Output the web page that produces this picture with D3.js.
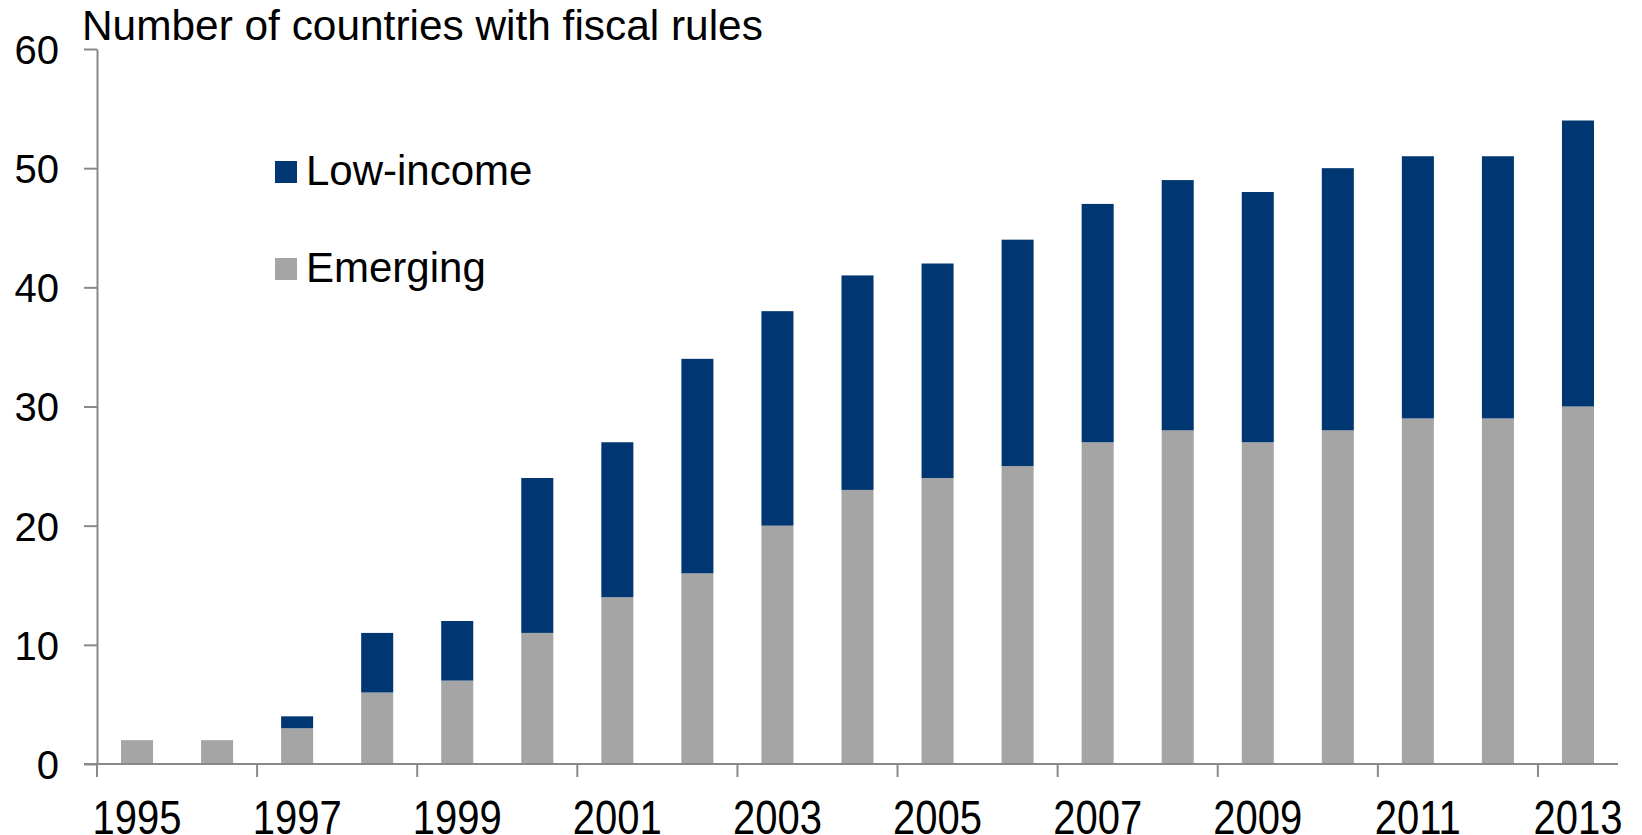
<!DOCTYPE html>
<html>
<head>
<meta charset="utf-8">
<script src="https://cdn.jsdelivr.net/npm/d3@7"></script>
<style>
  html, body { margin: 0; padding: 0; background: #fff; overflow: hidden; }
  svg text { font-family: "Liberation Sans", Arial, sans-serif; fill: #000; }
</style>
</head>
<body>
<svg id="chart" width="1642" height="835"></svg>
<script>
// Fiscal rules adoption by country group, 1995–2013
const years = ["1995","1996","1997","1998","1999","2000","2001","2002","2003","2004",
               "2005","2006","2007","2008","2009","2010","2011","2012","2013"];
const emerging  = [2, 2, 3, 6, 7, 11, 14, 16, 20, 23, 24, 25, 27, 28, 27, 28, 29, 29, 30];
const lowIncome = [0, 0, 1, 5, 5, 13, 13, 18, 18, 18, 18, 19, 20, 21, 21, 22, 22, 22, 24];
const yTicks = [0, 10, 20, 30, 40, 50, 60];
const seriesNames = ["Emerging", "Low-income"];
const seriesColors = ["#A5A5A5", "#003671"];

(function drawChart() {
  const svg = d3.select("#chart");
  const plotLeft = 97, plotRight = 1618, plotTop = 49, plotBottom = 764;
  const axisColor = "#898989";

  const x = d3.scaleBand().domain(years).range([plotLeft, plotRight]).paddingInner(0.6).paddingOuter(0.3);
  const y = d3.scaleLinear().domain([0, 60]).range([plotBottom, plotTop]);

  const rows = years.map((yr, i) => ({ year: yr, "Emerging": emerging[i], "Low-income": lowIncome[i] }));
  const stacked = d3.stack().keys(seriesNames)(rows);

  // Stacked bars
  svg.append("g").selectAll("g")
    .data(stacked)
    .join("g")
    .attr("fill", (d, i) => seriesColors[i])
    .selectAll("rect")
    .data(d => d.filter(p => p[1] > p[0]))
    .join("rect")
    .attr("x", d => x(d.data.year))
    .attr("width", x.bandwidth())
    .attr("y", d => y(d[1]))
    .attr("height", d => y(d[0]) - y(d[1]));

  // Y axis
  const yAxis = svg.append("g")
    .attr("transform", `translate(${plotLeft},0)`)
    .call(d3.axisLeft(y).tickValues(yTicks).tickSize(13).tickPadding(25).tickSizeOuter(0));
  yAxis.select(".domain").attr("stroke", axisColor).attr("stroke-width", 2);
  yAxis.selectAll(".tick line").attr("stroke", axisColor).attr("stroke-width", 2);
  yAxis.selectAll(".tick text")
    .style("font-size", "40px")
    .style("font-family", '"Liberation Sans", Arial, sans-serif')
    .attr("fill", "#000")
    .attr("dy", "0.36em");

  // X axis: ticks at every second category boundary, labels on every second category
  const step = x.step();
  const boundaries = d3.range(0, years.length + 1, 2).map(i => plotLeft + i * step);
  const xg = svg.append("g");
  xg.append("line")
    .attr("x1", plotLeft - 13).attr("x2", plotRight)
    .attr("y1", plotBottom).attr("y2", plotBottom)
    .attr("stroke", axisColor).attr("stroke-width", 2);
  xg.selectAll("line.tick")
    .data(boundaries)
    .join("line")
    .attr("class", "tick")
    .attr("x1", d => d).attr("x2", d => d)
    .attr("y1", plotBottom).attr("y2", plotBottom + 13)
    .attr("stroke", axisColor).attr("stroke-width", 2);
  xg.selectAll("text")
    .data(years.filter((d, i) => i % 2 === 0))
    .join("text")
    .attr("transform", d => `translate(${x(d) + x.bandwidth() / 2},834) scale(1,1.2)`)
    .attr("text-anchor", "middle")
    .style("font-size", "40px")
    .text(d => d);

  // Title
  svg.append("text")
    .attr("x", 82)
    .attr("y", 40)
    .style("font-size", "42.4px")
    .text("Number of countries with fiscal rules");

  // Legend
  const legendItems = [
    { name: "Low-income", color: seriesColors[1], y: 161 },
    { name: "Emerging", color: seriesColors[0], y: 258 }
  ];
  const lg = svg.append("g").selectAll("g").data(legendItems).join("g");
  lg.append("rect")
    .attr("x", 275).attr("y", d => d.y)
    .attr("width", 22).attr("height", 22)
    .attr("fill", d => d.color);
  lg.append("text")
    .attr("x", 306).attr("y", d => d.y + 24)
    .style("font-size", "42px")
    .text(d => d.name);
})();
</script>
</body>
</html>
